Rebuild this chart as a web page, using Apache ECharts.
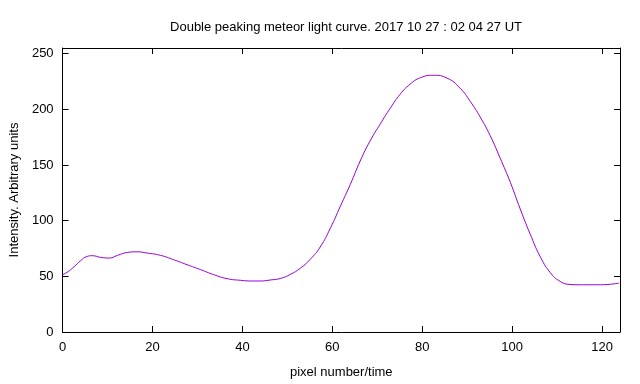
<!DOCTYPE html>
<html>
<head>
<meta charset="utf-8">
<script src="https://cdn.jsdelivr.net/npm/echarts@6/dist/echarts.min.js"></script>
<style>html,body{margin:0;padding:0;background:#fff}#c{width:640px;height:384px}</style>
</head>
<body>
<div id="c"></div>
<script>
var titleText = 'Double peaking meteor light curve. 2017 10 27 : 02 04 27 UT';
var xLabel = 'pixel number/time';
var yLabel = 'Intensity. Arbitrary units';
var xTicks = [0, 20, 40, 60, 80, 100, 120];
var yTicks = [0, 50, 100, 150, 200, 250];
var xs = [0, 1, 2.5, 4, 5.5, 6.6, 8.5, 10.4, 12.2, 14.4, 16.6, 18.8, 21.8, 24.7, 27.7, 30.7, 33.6, 36.6, 39.6, 42, 44, 46.4, 48.4, 50.7, 52.9, 55.1, 57.3, 59.6, 61.8, 64, 66.2, 68.4, 70.7, 72.9, 75.1, 77.3, 79.6, 82.5, 85.5, 88.4, 90.7, 92.9, 95.1, 97.3, 99.6, 101.8, 104, 106.2, 108.4, 110.7, 112.9, 115.1, 119.6, 123.8];
var ys = [51.5, 53.6, 58.4, 64, 67.9, 68.5, 67, 66.4, 68.8, 71.4, 72, 70.9, 68.8, 64.9, 60.4, 56, 51.5, 47.9, 46.4, 45.8, 45.8, 46.8, 48, 51.8, 57.3, 65.3, 76.3, 93.5, 113, 132.5, 153.5, 171.5, 187, 201, 213.5, 222.5, 228.3, 230.5, 228, 219, 207, 193, 176.5, 156.5, 134.4, 110.5, 88.1, 68.1, 53.8, 45.4, 42.7, 42.4, 42.4, 43.9];
var data = xs.map(function (x, i) { return [x, ys[i]]; });

var font = 'Liberation Sans';
var fs = 13;
var line = { show: true, onZero: false, lineStyle: { color: '#000', width: 1 } };
var tick = { show: true, inside: true, length: 6, lineStyle: { color: '#000', width: 1 } };
function xAxis(pos, labels) {
  return {
    type: 'value', position: pos, min: 0, max: 124,
    axisLine: line, splitLine: { show: false },
    axisTick: Object.assign({ customValues: xTicks }, tick),
    axisLabel: { show: labels, customValues: xTicks, color: '#000', fontFamily: font, fontSize: fs, margin: 9 },
    name: labels ? xLabel : '', nameLocation: 'middle', nameGap: 34,
    nameTextStyle: { color: '#000', fontFamily: font, fontSize: fs }
  };
}
function yAxis(pos, labels) {
  return {
    type: 'value', position: pos, min: 0, max: 255,
    axisLine: line, splitLine: { show: false },
    axisTick: Object.assign({ customValues: yTicks }, tick),
    axisLabel: { show: labels, customValues: yTicks, color: '#000', fontFamily: font, fontSize: fs, margin: 9 },
    name: labels ? yLabel : '', nameLocation: 'middle', nameGap: 41, nameRotate: 90,
    nameTextStyle: { color: '#000', fontFamily: font, fontSize: fs }
  };
}
var chart = echarts.init(document.getElementById('c'), null, { renderer: 'canvas' });
chart.setOption({
  animation: false,
  backgroundColor: '#fff',
  title: { text: titleText, left: 341, top: 16, textAlign: 'center',
    textStyle: { color: '#000', fontFamily: font, fontSize: fs, fontWeight: 'normal' } },
  grid: { left: 62, right: 20, top: 48, bottom: 51 },
  xAxis: [xAxis('bottom', true), xAxis('top', false)],
  yAxis: [yAxis('left', true), yAxis('right', false)],
  series: [{
    type: 'line', data: data, smooth: 0.5, showSymbol: false,
    lineStyle: { color: '#9400d3', width: 1 }, xAxisIndex: 0, yAxisIndex: 0
  }]
});
</script>
</body>
</html>
